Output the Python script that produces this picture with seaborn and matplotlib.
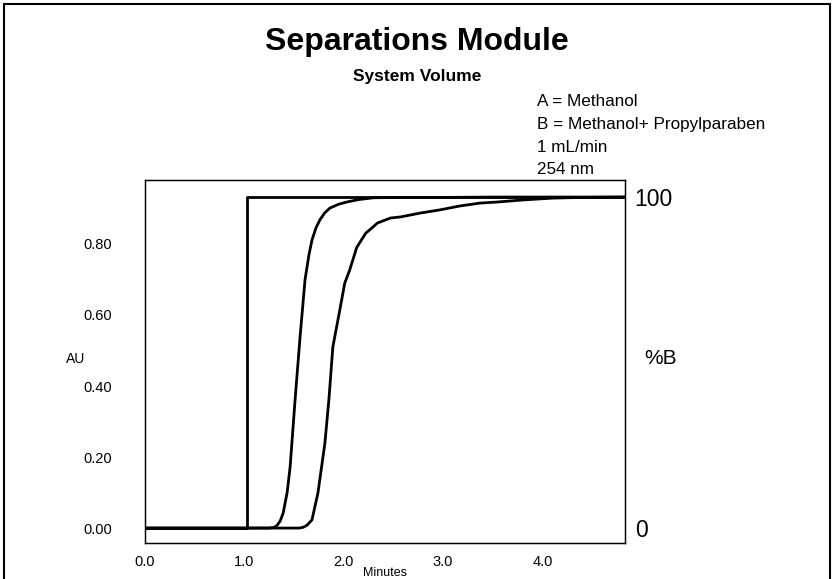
import matplotlib
matplotlib.use("Agg")
import matplotlib.pyplot as plt
import seaborn as sns
import pandas as pd
from matplotlib.lines import Line2D

# Gradient step (%B) and the two detector traces (AU) vs. time in minutes
step_time = [0.0, 1.03, 1.03, 4.83]
step_pct_b = [0, 0, 100, 100]

trace1_time = [0, 1.25, 1.30, 1.33, 1.36, 1.39, 1.43, 1.46, 1.51, 1.56, 1.61, 1.65,
               1.68, 1.72, 1.76, 1.81, 1.86, 1.95, 2.03, 2.15, 2.30, 2.6, 3.0, 3.5,
               4.0, 4.83]
trace1_au = [0, 0, 0.002, 0.008, 0.02, 0.042, 0.10, 0.172, 0.361, 0.538, 0.699, 0.77,
             0.811, 0.845, 0.868, 0.888, 0.901, 0.912, 0.918, 0.925, 0.930, 0.931,
             0.931, 0.932, 0.932, 0.932]

trace2_time = [0, 1.55, 1.59, 1.63, 1.68, 1.74, 1.81, 1.85, 1.89, 1.96, 2.01, 2.06,
               2.13, 2.22, 2.34, 2.47, 2.57, 2.77, 2.97, 3.17, 3.37, 3.54, 3.81, 4.1,
               4.4, 4.83]
trace2_au = [0, 0, 0.002, 0.008, 0.023, 0.099, 0.239, 0.361, 0.51, 0.614, 0.69, 0.727,
             0.79, 0.83, 0.859, 0.873, 0.876, 0.887, 0.896, 0.907, 0.915, 0.918,
             0.924, 0.929, 0.931, 0.932]

x_ticks = [0, 1, 2, 3, 4]
x_tick_labels = ["0.0", "1.0", "2.0", "3.0", "4.0"]
y_ticks = [0.0, 0.2, 0.4, 0.6, 0.8]
y_tick_labels = ["0.00", "0.20", "0.40", "0.60", "0.80"]
b_ticks = [0, 100]
b_tick_labels = ["0", "100"]

notes = ["A = Methanol", "B = Methanol+ Propylparaben", "1 mL/min", "254 nm"]

sns.set_theme(style="white")
plt.rcParams["font.family"] = ["Liberation Sans", "DejaVu Sans"]
plt.rcParams["text.color"] = "black"
plt.rcParams["axes.labelcolor"] = "black"
plt.rcParams["xtick.color"] = "black"
plt.rcParams["ytick.color"] = "black"

fig = plt.figure(figsize=(8.34, 5.79), dpi=100)
ax = fig.add_axes([0.1739, 0.0622, 0.5755, 0.6269])

plateau_au = 0.932
au_lo, au_hi = -0.042, 0.98

df1 = pd.DataFrame({"t": trace1_time, "au": trace1_au})
df2 = pd.DataFrame({"t": trace2_time, "au": trace2_au})
sns.lineplot(data=df1, x="t", y="au", ax=ax, color="black", lw=2.0,
             sort=False, estimator=None)
sns.lineplot(data=df2, x="t", y="au", ax=ax, color="black", lw=2.0,
             sort=False, estimator=None)

ax.set_xlim(0, 4.83)
ax.set_ylim(au_lo, au_hi)
ax.set_xticks(x_ticks)
ax.set_xticklabels(x_tick_labels, fontsize=10.5)
ax.set_yticks(y_ticks)
ax.set_yticklabels(y_tick_labels, fontsize=10.5)
ax.tick_params(axis="both", length=0)
ax.tick_params(axis="y", pad=24)
ax.tick_params(axis="x", pad=9)
ax.set_xlabel("Minutes", fontsize=9, labelpad=-2)
ax.set_ylabel("")

axb = ax.twinx()
dfb = pd.DataFrame({"t": step_time, "b": step_pct_b})
sns.lineplot(data=dfb, x="t", y="b", ax=axb, color="black", lw=2.0,
             sort=False, estimator=None)
axb.set_ylim(au_lo / plateau_au * 100, au_hi / plateau_au * 100)
axb.set_yticks(b_ticks)
axb.set_yticklabels(b_tick_labels, fontsize=16.5)
axb.tick_params(axis="y", length=0, pad=7)
axb.set_ylabel("")
axb.set_xlabel("")
axb.grid(False)

# Side axis titles, drawn horizontally beside each axis
fig.text(76 / 834, 1 - 359 / 579, "AU", ha="center", va="center", fontsize=10)
fig.text(661 / 834, 1 - 359 / 579, "%B", ha="center", va="center", fontsize=15)

for a in (ax, axb):
    for sp in a.spines.values():
        sp.set_color("black")
        sp.set_linewidth(0.9)

fig.text(0.5, 0.927, "Separations Module", ha="center", va="center",
         fontsize=23, fontweight="bold")
fig.text(0.5, 0.868, "System Volume", ha="center", va="center",
         fontsize=12.5, fontweight="bold")

for i, line in enumerate(notes):
    fig.text(537 / 834, 1 - (102 + 22.6 * i) / 579, line, ha="left", va="center",
             fontsize=12.3)

# Page frame around the figure
for xs, ys in [([4 / 834, 4 / 834], [-0.1, 1 - 4 / 579]),
               ([4 / 834, 830 / 834], [1 - 4 / 579, 1 - 4 / 579]),
               ([830 / 834, 830 / 834], [-0.1, 1 - 4 / 579])]:
    fig.add_artist(Line2D(xs, ys, color="black", lw=1.5, transform=fig.transFigure))

fig.savefig("out.png", dpi=100)
